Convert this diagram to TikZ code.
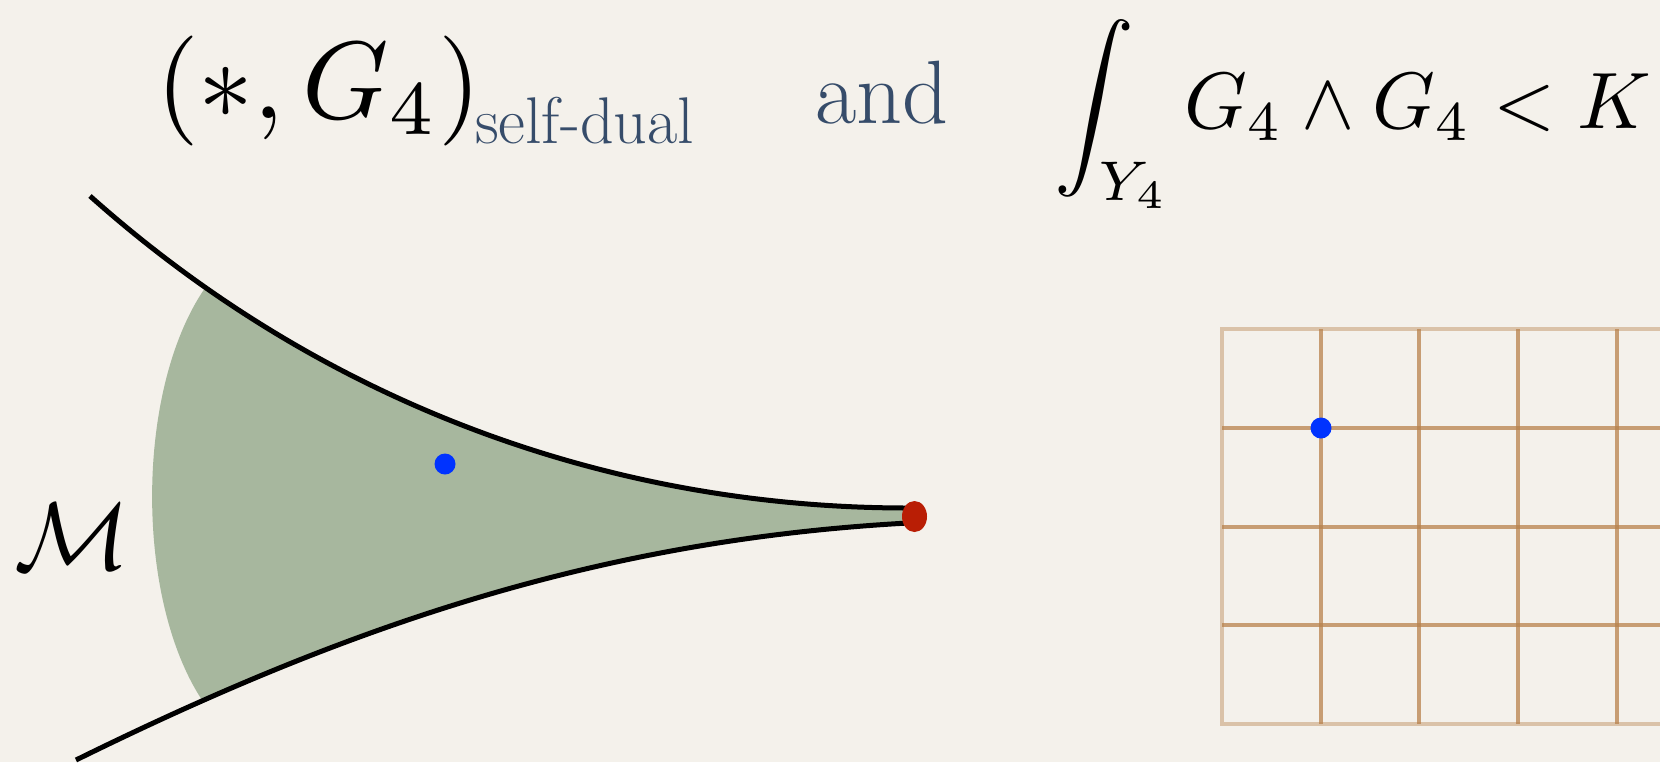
\documentclass[tikz,border=0pt]{standalone}
\usepackage{graphicx}
\usetikzlibrary{shapes.geometric}
\definecolor{paper}{RGB}{244,241,235}
\definecolor{moduli}{RGB}{167,183,158}
\definecolor{gridbrown}{RGB}{184,130,76}
\definecolor{slate}{RGB}{54,76,106}
\definecolor{dotblue}{RGB}{0,51,255}
\definecolor{dotred}{RGB}{185,30,5}
\tikzset{
  lbl/.style={inner sep=0pt, outer sep=0pt, anchor=base west},
  boundary/.style={line width=2.5pt, black, line cap=butt},
  gridline/.style={line width=2.1pt, gridbrown, opacity=0.75},
  gridborder/.style={line width=2.1pt, gridbrown, opacity=0.42},
  bluedot/.style={circle, fill=dotblue, inner sep=0pt, minimum size=10.5pt},
  reddot/.style={ellipse, fill=dotred, inner sep=0pt, minimum width=12.5pt, minimum height=15.5pt},
}
\begin{document}
\begin{tikzpicture}[x=0.5pt, y=-0.5pt]
\useasboundingbox (0,0) rectangle (1660,762);
\fill[paper] (0,0) rectangle (1660,762);

% green region
\begin{scope}
  \clip (205,288) -- (205,120) -- (1000,120) -- (1000,800) -- (202,800) -- (202,700)
        .. controls (135,598) and (135,390) .. (205,288);
  \fill[moduli] (90,196) .. controls (330,410) and (620,508) .. (908,508)
        -- (908,523) .. controls (600,540) and (350,625) .. (76,760) -- cycle;
\end{scope}

% boundary curves
\coordinate (uStart) at (90,196);
\coordinate (uEnd) at (908,508);
\coordinate (lStart) at (76,760);
\coordinate (lEnd) at (908,523);
\draw[boundary] (uStart) .. controls (330,410) and (620,508) .. (uEnd);
\draw[boundary] (lStart) .. controls (350,625) and (600,540) .. (lEnd);

\node[reddot] (tip) at (914.5,516.5) {};
\node[bluedot] (pm) at (445,464) {};
\node[inner sep=0pt] (M) at (72,537) {\scalebox{4.8}{$\mathcal{M}$}};

% grid
\foreach \x in {1321,1419,1518,1617}
  \draw[gridline] (\x,329) -- (\x,724);
\foreach \y in {428,527,625}
  \draw[gridline] (1222,\y) -- (1660,\y);
\draw[gridborder] (1660,329) -- (1222,329) -- (1222,724) -- (1660,724);
\node[bluedot] (pg) at (1321,428) {};

% texts
\node[lbl] (f1) at (156,118) {\scalebox{5.5}{$(*,G_4)$}};
\node[lbl, text=slate] (sd) at (475,143) {\fontsize{33}{37}\selectfont self-dual};
\node[lbl, text=slate] (and) at (815,123) {\fontsize{45}{50}\selectfont and};
\node[lbl] (f2) at (1054,128) {\scalebox{4.0}{$\displaystyle\int_{Y_4}$}\scalebox{4.0}{$\,G_4\wedge G_4 < K$}};
\end{tikzpicture}
\end{document}
